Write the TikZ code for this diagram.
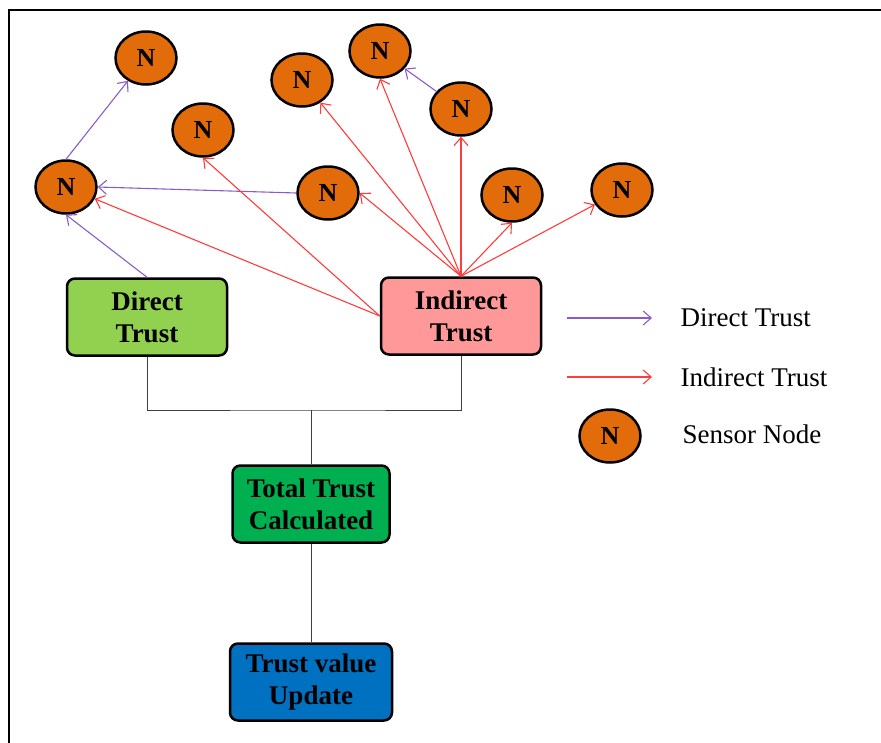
\documentclass[tikz,border=0pt]{standalone}
\usepackage{fontspec}
\setmainfont{Liberation Serif}
\usetikzlibrary{arrows.meta,positioning,shapes.geometric}
\definecolor{nodec}{HTML}{E36C0A}
\definecolor{directc}{HTML}{92D050}
\definecolor{indirc}{HTML}{FF9999}
\definecolor{totalc}{HTML}{00B050}
\definecolor{updc}{HTML}{0070C0}
\definecolor{dirarr}{HTML}{8A5CC9}
\definecolor{indarr}{HTML}{FF3C3C}
\tikzset{
  sensor/.style={draw, ellipse, fill=nodec, line width=2.5pt, minimum width=61pt, minimum height=53pt, inner sep=0pt, font=\fontsize{26}{30}\selectfont\bfseries},
  blk/.style={draw, rounded corners=8pt, line width=2.5pt, minimum width=160pt, minimum height=77pt, align=center, font=\fontsize{27}{32}\selectfont\bfseries},
  darr/.style={-{Straight Barb[length=8pt,width=14pt]}, dirarr, line width=1.1pt},
  iarr/.style={-{Straight Barb[length=8pt,width=14pt]}, indarr, line width=1.1pt},
  link/.style={draw=black!75, line width=1pt},
  legtxt/.style={anchor=west, font=\fontsize{27}{32}\selectfont},
}
\begin{document}
\begin{tikzpicture}[x=1pt, y=-1pt]
  \useasboundingbox (0,0) rectangle (881,742);
  \draw[line width=1.5pt] (9,10) rectangle (895,760);
  % sensor nodes
  \node[sensor] (n1) at (146,58) {N};
  \node[sensor] (n2) at (66,187) {N};
  \node[sensor] (n3) at (203,130) {N};
  \node[sensor] (n4) at (302,80) {N};
  \node[sensor] (n5) at (380,51) {N};
  \node[sensor] (n6) at (328,193) {N};
  \node[sensor] (n7) at (461,109) {N};
  \node[sensor] (n8) at (512,195) {N};
  \node[sensor] (n9) at (622,190) {N};
  % trust blocks
  \node[blk, fill=directc] (dir) at (147,317) {Direct\\Trust};
  \node[blk, fill=indirc] (ind) at (461,316) {Indirect\\Trust};
  \node[blk, fill=totalc, minimum width=157pt] (tot) at (311,504) {Total Trust\\Calculated};
  \node[blk, fill=updc, minimum width=162pt] (upd) at (311,682) {Trust value\\Update};
  \coordinate (jn) at (311,410);
  \draw[link] (dir.south) |- (jn) -| (ind.south);
  \draw[link] (jn) -- (tot.north);
  \draw[link] (tot.south) -- (upd.north);
  % direct trust
  \draw[darr] (dir.north) -- (n2.south);
  \draw[darr] (n2.north) -- (n1);
  \draw[darr] (n6.west) -- (n2.east);
  \draw[darr] (n7) -- (n5);
  % indirect trust
  \draw[iarr] (ind.west) -- (n2);
  \draw[iarr] (ind.west) -- (n3.south);
  \draw[iarr] (ind.north) -- (n4);
  \draw[iarr] (ind.north) -- (n5.south);
  \draw[iarr] (ind.north) -- (n6.east);
  \draw[iarr] (ind.north) -- (n7.south);
  \draw[iarr] (ind.north) -- (n8.south);
  \draw[iarr] (ind.north) -- (n9);
  % legend
  \coordinate (ld1) at (567,318); \coordinate (ld2) at (652,318);
  \coordinate (li1) at (567,377); \coordinate (li2) at (652,377);
  \draw[darr] (ld1) -- (ld2);
  \draw[iarr] (li1) -- (li2);
  \node[legtxt] (ltd) at (677,318) {Direct Trust};
  \node[legtxt] (lti) at (677,377) {Indirect Trust};
  \node[sensor] (ln) at (610,436) {N};
  \node[legtxt] (lts) at (679,434) {Sensor Node};
\end{tikzpicture}
\end{document}
